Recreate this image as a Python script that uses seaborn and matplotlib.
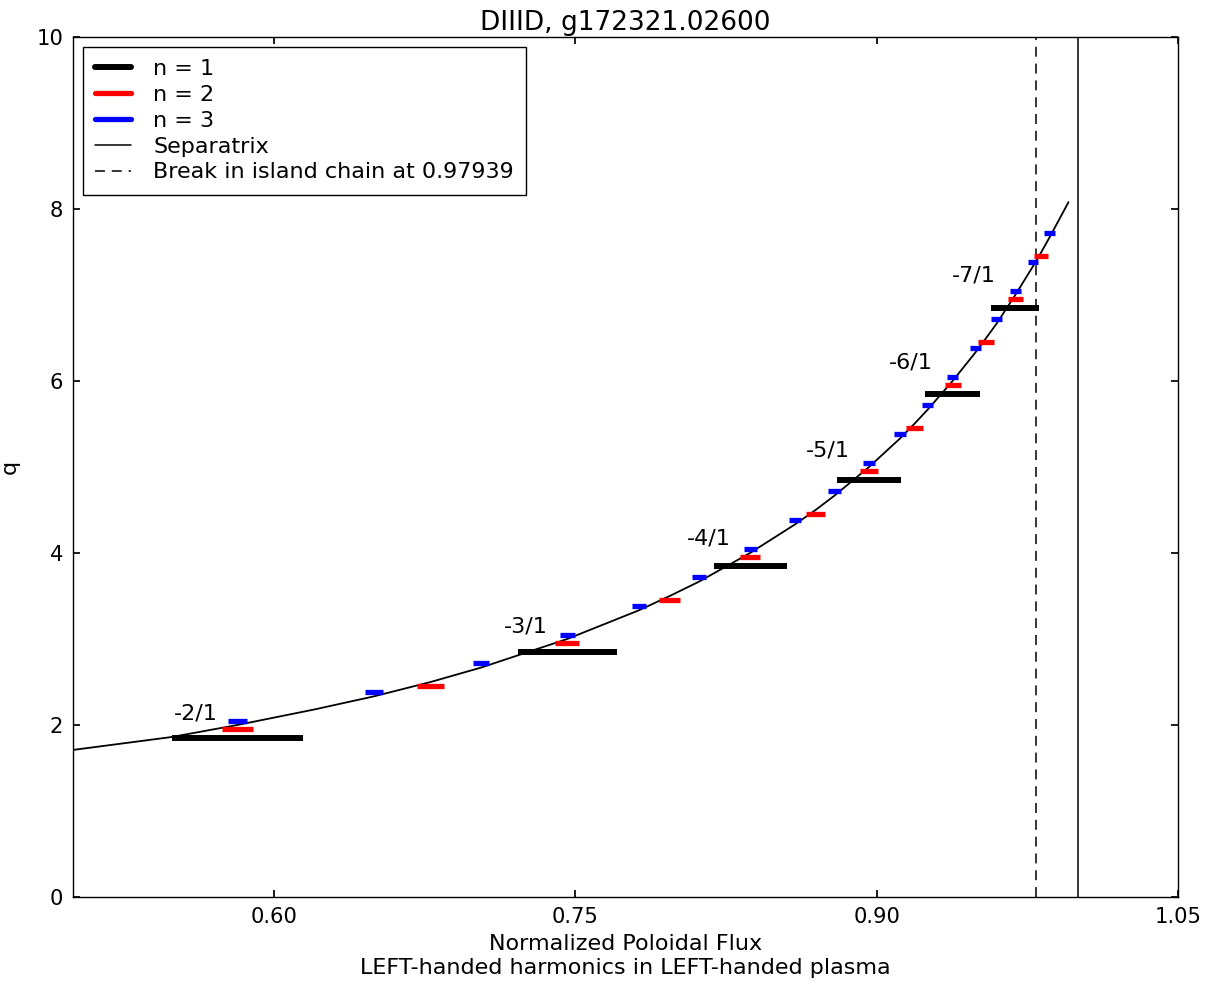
import numpy as np
import pandas as pd
import matplotlib
matplotlib.use("Agg")
import matplotlib.pyplot as plt
from matplotlib.lines import Line2D
import seaborn as sns

# ---------------- data ----------------
title = "DIIID, g172321.02600"

# q profile (normalized poloidal flux vs q)
psi_profile = [0.500, 0.549, 0.5818, 0.620, 0.6498, 0.678, 0.703, 0.746, 0.7816,
               0.797, 0.8116, 0.837, 0.8594, 0.8696, 0.879, 0.8962, 0.9117,
               0.9187, 0.9254, 0.9378, 0.9492, 0.9545, 0.9597, 0.969, 0.9778,
               0.982, 0.986, 0.9955]
q_profile = [1.71, 1.86, 2.0, 2.18, 2.333, 2.5, 2.667, 3.0, 3.333,
             3.5, 3.667, 4.0, 4.333, 4.5, 4.667, 5.0, 5.333,
             5.5, 5.667, 6.0, 6.333, 6.5, 6.667, 7.0, 7.333,
             7.5, 7.667, 8.08]

# n = 1 islands
n1_q = [2, 3, 4, 5, 6, 7]
n1_center = [0.5818, 0.7459, 0.8371, 0.8962, 0.9378, 0.9690]
n1_width = [0.0650, 0.0493, 0.0364, 0.0318, 0.0270, 0.0238]

# n = 2 islands
n2_q = [2.0, 2.5, 3.0, 3.5, 4.0, 4.5, 5.0, 5.5, 6.0, 6.5, 7.0, 7.5]
n2_center = [0.5819, 0.6780, 0.7460, 0.7970, 0.8370, 0.8696, 0.8963, 0.9187,
             0.9378, 0.9545, 0.9690, 0.9820]
n2_width = [0.0154, 0.0132, 0.0117, 0.0106, 0.0098, 0.0093, 0.0087, 0.0083,
            0.0080, 0.0076, 0.0073, 0.0069]

# n = 3 islands
n3_q = [6/3, 7/3, 8/3, 9/3, 10/3, 11/3, 12/3, 13/3, 14/3, 15/3, 16/3, 17/3,
        18/3, 19/3, 20/3, 21/3, 22/3, 23/3]
n3_center = [0.5819, 0.6498, 0.7030, 0.7460, 0.7816, 0.8116, 0.8372, 0.8594,
             0.8790, 0.8962, 0.9117, 0.9254, 0.9379, 0.9492, 0.9597, 0.9692,
             0.9778, 0.9860]
n3_width = [0.0094, 0.0085, 0.0078, 0.0075, 0.0071, 0.0070, 0.0065, 0.0063,
            0.0063, 0.0060, 0.0061, 0.0055, 0.0053, 0.0056, 0.0054, 0.0053,
            0.0053, 0.0051]

separatrix = 1.0
island_break = 0.97939

x_ticks = [0.60, 0.75, 0.90, 1.05]
y_ticks = [0, 2, 4, 6, 8, 10]

# ---------------- styling ----------------
sns.set_theme(style="ticks")
FS = 16
TFS = 15.2
plt.rcParams.update({
    "font.family": ["DejaVu Sans"],
    "font.size": FS,
    "text.color": "black",
    "axes.labelcolor": "black",
    "axes.linewidth": 1.0,
    "axes.edgecolor": "black",
    "xtick.direction": "in",
    "ytick.direction": "in",
    "xtick.top": True,
    "ytick.right": True,
    "xtick.major.size": 5,
    "ytick.major.size": 5,
    "xtick.color": "black",
    "ytick.color": "black",
    "xtick.labelsize": TFS,
    "ytick.labelsize": TFS,
})

fig = plt.figure(figsize=(12.11, 9.85), dpi=100)
ax = fig.add_axes([73 / 1211, 1 - 897 / 985, (1178 - 73) / 1211, (897 - 37) / 985])

prof = pd.DataFrame({"psi": psi_profile, "q": q_profile})
sns.lineplot(data=prof, x="psi", y="q", ax=ax, color="black", lw=1.3,
             sort=False, estimator=None, legend=False)

def draw_bars(qs, centers, widths, dy, color, lw):
    c = np.asarray(centers)
    w = np.asarray(widths)
    ax.hlines(np.asarray(qs) + dy, c - w / 2, c + w / 2, colors=color,
              linewidth=lw, capstyle="butt", zorder=3)

draw_bars(n1_q, n1_center, n1_width, -0.15, "black", 4.3)
draw_bars(n2_q, n2_center, n2_width, -0.05, "red", 3.8)
draw_bars(n3_q, n3_center, n3_width, 0.05, "blue", 3.8)

for q, c in zip(n1_q, n1_center):
    ax.text(c - 0.0315, q + 0.13 + 0.02 * (q - 2), f"-{q}/1", ha="left",
            va="center", fontsize=FS, color="black")

ax.axvline(separatrix, color="black", lw=1.1)
ax.axvline(island_break, color="black", lw=1.1, linestyle=(0, (6.5, 4.5)))

ax.set_xlim(0.5, 1.05)
ax.set_ylim(0, 10)
ax.set_xticks(x_ticks)
ax.set_xticklabels([f"{t:.2f}" for t in x_ticks])
ax.set_yticks(y_ticks)
ax.tick_params(pad=7)
ax.set_xlabel("Normalized Poloidal Flux\nLEFT-handed harmonics in LEFT-handed plasma",
              fontsize=FS, labelpad=5, linespacing=1.3)
ax.set_ylabel("q", fontsize=FS, labelpad=12)
ax.set_title(title, fontsize=19, pad=5)

handles = [
    Line2D([], [], color="black", lw=4.3),
    Line2D([], [], color="red", lw=3.8),
    Line2D([], [], color="blue", lw=3.8),
    Line2D([], [], color="black", lw=1.1),
    Line2D([], [], color="black", lw=1.1, linestyle=(0, (6.5, 4.5))),
]
labels = ["n = 1", "n = 2", "n = 3", "Separatrix",
          f"Break in island chain at {island_break:.5f}"]
leg = ax.legend(handles, labels, loc="upper left", fontsize=FS, frameon=True,
                fancybox=False, edgecolor="black", framealpha=1,
                handlelength=1.62, handletextpad=1.0, labelspacing=0.26,
                borderaxespad=0.45, borderpad=0.55)
leg.get_frame().set_linewidth(1.0)

fig.savefig("out.png", dpi=100, facecolor="white")
